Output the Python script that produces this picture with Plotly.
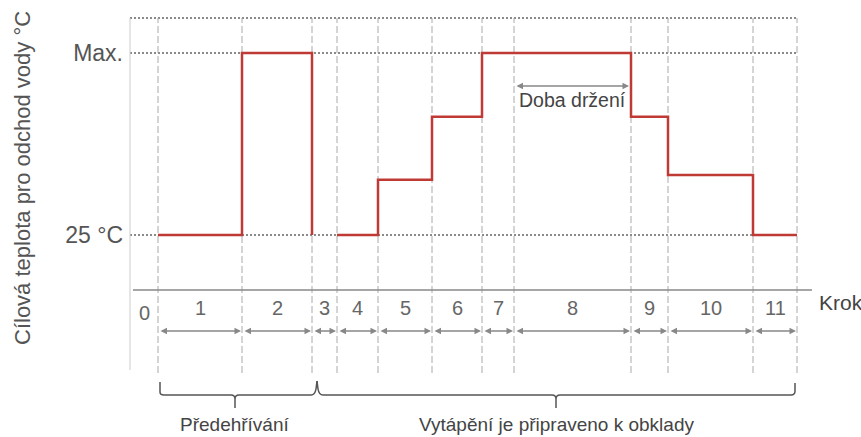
import plotly.graph_objects as go

# step boundaries along the time axis (step 1 starts at 0)
bounds = [0, 84, 154, 179, 220, 274, 324, 356, 473, 510, 595, 639]
step_labels = ["1", "2", "3", "4", "5", "6", "7", "8", "9", "10", "11"]
# target leaving water temperature per step, Max. = 55, None = no target
levels = [25, 55, None, 25, 34.1, 44.5, 55, 55, 44.5, 34.9, 25]
T_BASE = 25
T_MAX = 55
y_ticks = [T_BASE, T_MAX]
y_ticktext = ["25 °C", "Max."]
phases = [("Předehřívání", 0, 2), ("Vytápění je připraveno k obklady", 2, 11)]
hold_step = 8  # "Doba držení" spans this step

W, H = 861, 437
ML = 128
X0 = -30
K = 182 / (T_MAX - T_BASE)  # px per degree


def yp(p):
    # pixel row -> y data value (used for layout rows only)
    return T_BASE + (235 - p) / K


FONT = "Liberation Sans, Arial, sans-serif"
GRAY = "#888"

# red target line, built from the step table
xs, ys = [], []
for i, lv in enumerate(levels):
    if lv is None:
        if xs and ys[-1] is not None:
            xs += [bounds[i], None]
            ys += [T_BASE, None]
        continue
    xs += [bounds[i], bounds[i + 1]]
    ys += [lv, lv]

fig = go.Figure()
fig.add_trace(go.Scatter(x=xs, y=ys, mode="lines", connectgaps=False,
                         line=dict(color="#bf3a35", width=2.5), hoverinfo="skip"))

x_left = X0 + 2
x_right = bounds[-1]
shapes = []
# dotted horizontal reference lines
for yv in [yp(18), T_MAX, T_BASE]:
    shapes.append(dict(type="line", xref="x", yref="y", x0=x_left, x1=x_right, y0=yv, y1=yv,
                       line=dict(color="#8a8a8a", width=2, dash="2px,2px"), layer="below"))
# dashed step boundaries
for b in bounds:
    shapes.append(dict(type="line", xref="x", yref="y", x0=b, x1=b, y0=yp(373), y1=yp(18),
                       line=dict(color="#aaa", width=1, dash="7px,3px"), layer="below"))
# left frame line
shapes.append(dict(type="line", xref="x", yref="y", x0=x_left, x1=x_left, y0=yp(370), y1=yp(18),
                   line=dict(color="#ccc", width=1), layer="below"))
# step axis
shapes.append(dict(type="line", xref="x", yref="y", x0=X0 + 5, x1=x_right + 15, y0=yp(290), y1=yp(290),
                   line=dict(color=GRAY, width=1.5)))


def pt(xd, ypx):
    return f"{xd:.2f},{yp(ypx):.3f}"


# braces under the phases
peak = bounds[2] + 5
brace_l = bounds[0] + 2
brace_r = bounds[-1] - 2
c1 = (bounds[0] + bounds[2]) / 2
c2 = (peak + brace_r) / 2
p1 = (f"M {pt(brace_l, 382)} L {pt(brace_l, 392)} Q {pt(brace_l, 395)} {pt(brace_l + 4, 395)} "
      f"L {pt(c1 - 4, 395)} Q {pt(c1, 395)} {pt(c1, 399)} L {pt(c1, 408)} "
      f"M {pt(c1, 399)} Q {pt(c1, 395)} {pt(c1 + 4, 395)} "
      f"L {pt(peak - 6, 395)} Q {pt(peak - 2, 395)} {pt(peak - 1, 389)} L {pt(peak, 381)}")
p2 = (f"M {pt(peak, 381)} L {pt(peak + 1, 389)} Q {pt(peak + 2, 395)} {pt(peak + 6, 395)} "
      f"L {pt(c2 - 4, 395)} Q {pt(c2, 395)} {pt(c2, 399)} L {pt(c2, 408)} "
      f"M {pt(c2, 399)} Q {pt(c2, 395)} {pt(c2 + 4, 395)} "
      f"L {pt(brace_r - 4, 395)} Q {pt(brace_r, 395)} {pt(brace_r, 391)} L {pt(brace_r, 383)}")
for p in (p1, p2):
    shapes.append(dict(type="path", xref="x", yref="y", path=p, line=dict(color="#555", width=1.5)))

ann = []
# step numbers and arrows
for i, lab in enumerate(step_labels):
    mid = (bounds[i] + bounds[i + 1]) / 2
    ann.append(dict(x=mid, y=yp(308), text=lab, showarrow=False,
                    font=dict(size=20, color="#666", family=FONT)))
    ann.append(dict(x=bounds[i + 1], y=yp(331), ax=bounds[i], ay=yp(331), axref="x", ayref="y",
                    text="", showarrow=True, arrowhead=2, arrowside="end+start", arrowsize=1,
                    arrowwidth=1.3, arrowcolor=GRAY, standoff=1, startstandoff=1))
ann.append(dict(x=(x_left + bounds[0]) / 2, y=yp(313), text="0", showarrow=False,
                font=dict(size=20, color="#666", family=FONT)))
ann.append(dict(x=x_right + 20, y=yp(302), text="Krok", showarrow=False, xanchor="left",
                font=dict(size=21, color="#444", family=FONT)))

# holding time
h0, h1 = bounds[hold_step - 1] + 1, bounds[hold_step] - 2
ann.append(dict(x=h1, y=yp(86), ax=h0, ay=yp(86), axref="x", ayref="y", text="", showarrow=True,
                arrowhead=2, arrowside="end+start", arrowsize=1, arrowwidth=1.3, arrowcolor=GRAY,
                standoff=0, startstandoff=0))
ann.append(dict(x=(h0 + h1) / 2, y=yp(100), text="Doba držení", showarrow=False,
                font=dict(size=19.5, color="#444", family=FONT)))

# phase labels
for (name, a, b), cx in zip(phases, (c1, c2)):
    ann.append(dict(x=cx, y=yp(424), text=name, showarrow=False, yanchor="middle",
                    font=dict(size=19, color="#444", family=FONT)))

# y title
ann.append(dict(xref="paper", yref="paper", x=(22 - ML) / (W - ML), y=1 - 178 / H,
                xanchor="center", yanchor="middle",
                text="Cílová teplota pro odchod vody °C", textangle=-90, showarrow=False,
                font=dict(size=22, color="#555", family=FONT)))

fig.update_layout(
    width=W, height=H,
    margin=dict(l=ML, r=0, t=0, b=0),
    paper_bgcolor="white", plot_bgcolor="white",
    showlegend=False,
    shapes=shapes,
    annotations=ann,
    font=dict(family=FONT),
)
fig.update_xaxes(range=[X0, X0 + (W - ML)], visible=False, fixedrange=True)
fig.update_yaxes(range=[yp(H), yp(0)], tickvals=y_ticks, ticktext=y_ticktext,
                 showgrid=False, zeroline=False, showline=False, ticks="",
                 ticklabelstandoff=4, tickfont=dict(size=23, color="#555", family=FONT),
                 fixedrange=True)

fig.write_html("out.html", config={"displayModeBar": False},
               post_script="document.body.style.margin='0';")
